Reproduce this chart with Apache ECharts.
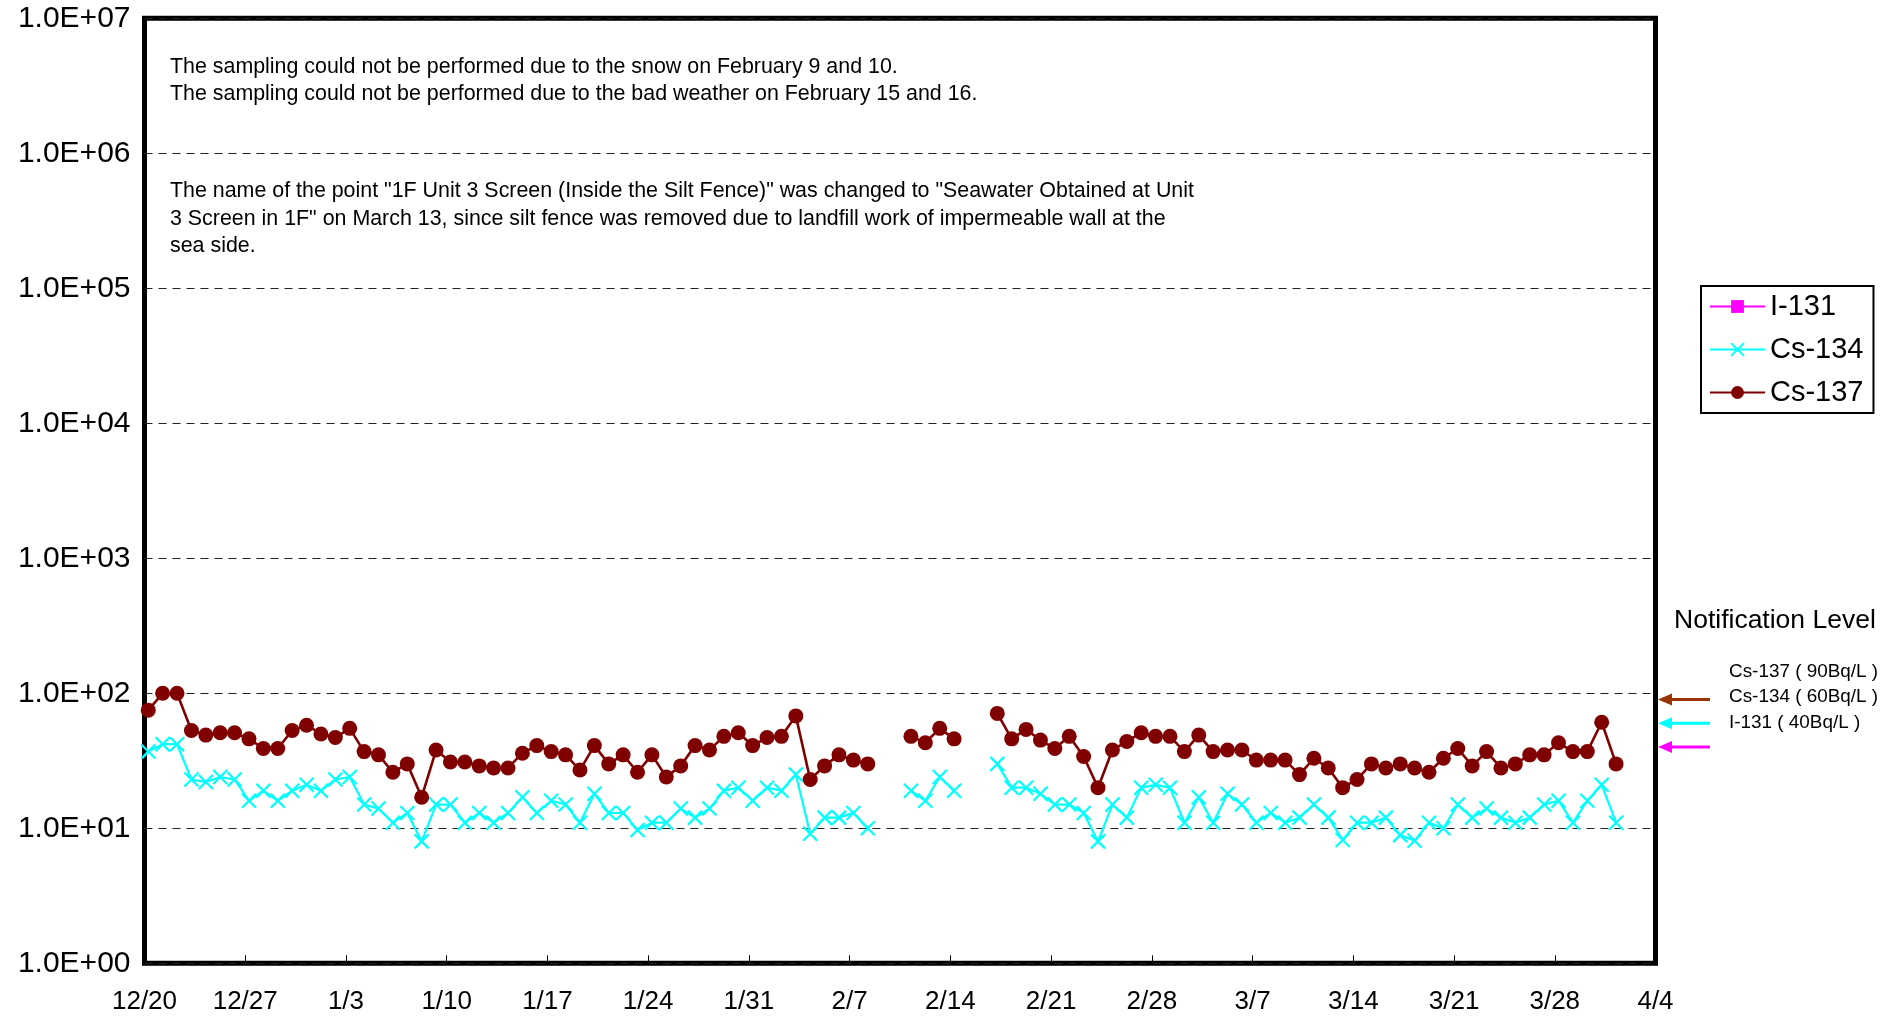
<!DOCTYPE html>
<html>
<head>
<meta charset="utf-8">
<script src="https://cdn.jsdelivr.net/npm/echarts@6/dist/echarts.min.js"></script>
<style>
html,body{margin:0;padding:0;background:#fff;}
#chart{width:1899px;height:1017px;}
</style>
</head>
<body>
<div id="chart"></div>
<script>
// ---- data (sampling from 12/19 to 4/1, one sample per day) ----
const firstSampleDay = -1; // 12/19, one day before the 12/20 axis origin
const xTickLabels = ['12/20','12/27','1/3','1/10','1/17','1/24','1/31','2/7','2/14','2/21','2/28','3/7','3/14','3/21','3/28','4/4'];
const yTickLabels = ['1.0E+00','1.0E+01','1.0E+02','1.0E+03','1.0E+04','1.0E+05','1.0E+06','1.0E+07'];
const seriesNames = ['I-131','Cs-134','Cs-137'];
const i131 = []; // not detected
const cs134 = [
 28,37,42,42,23,22,24,23,16,19,16,19,21,19,23,24,15,14,11,13,8.0,15,15,11,13,11,13,
 17,13,16,15,11,18,13,13,9.7,11,11,14,12,14,19,20,16,20,19,25,9.1,12,12,13,10,
 null,null,19,16,24,19,null,null,
 30,20,20,18,15,15,13,8.0,15,12,20,21,20,11,17,11,18,15,
 11,13,11,12,15,12,8.2,11,11,12,8.9,8.1,11,10,15,12,14,12,11,12,15,16,11,16,21,11
];
const cs137 = [
 70,75,100,100,53,49,51,51,46,39,39,53,58,50,47,55,37,35,26,30,17,38,31,31,29,28,28,
 36,41,37,35,27,41,30,35,26,35,24,29,41,38,48,51,41,47,48,68,23,29,35,32,30,
 null,null,48,43,55,46,null,null,
 71,46,54,45,39,48,34,20,38,44,51,48,48,37,49,37,38,38,
 32,32,32,25,33,28,20,23,30,28,30,28,26,33,39,29,37,28,30,35,35,43,37,37,61,30
];
const notifyLabels = ['Cs-137 ( 90Bq/L )','Cs-134 ( 60Bq/L )','I-131 ( 40Bq/L )'];
const notifyLevels = [90, 60, 40];
const notifyColors = ['#993300','#00FFFF','#FF00FF'];

const sampleTimeOffset = 0.26; // samples taken in the morning
function toXY(arr){
  return arr.map((v,i)=>[firstSampleDay + i + sampleTimeOffset, v]);
}

const chart = echarts.init(document.getElementById('chart'), null, {renderer:'canvas'});
const FONT = 'Liberation Sans, Arial, sans-serif';
const crossPath = 'path://M0,0L10,10M10,0L0,10';

const option = {
  animation:false,
  backgroundColor:'#fff',
  textStyle:{fontFamily:FONT},
  grid:{left:144.5, right:243.5, top:18.3, bottom:53.7, show:true, borderColor:'#000', borderWidth:5, backgroundColor:'transparent'},
  legend:{
    data:seriesNames,
    orient:'vertical',
    left:1701, top:286,
    backgroundColor:'#fff',
    borderColor:'#000', borderWidth:2,
    padding:[6,10,6,8],
    itemGap:14,
    itemWidth:55, itemHeight:16,
    textStyle:{fontFamily:FONT, fontSize:29, color:'#000'}
  },
  xAxis:{
    type:'value', min:0, max:105, interval:7,
    axisLine:{show:false},
    axisTick:{show:true, inside:true, length:8, lineStyle:{color:'#000', width:1}},
    splitLine:{show:false},
    axisLabel:{fontFamily:FONT, fontSize:26, color:'#000', margin:26,
      formatter:(v)=>xTickLabels[Math.round(v/7)] || ''}
  },
  yAxis:{
    type:'log', logBase:10, min:1, max:1e7,
    axisLine:{show:false},
    axisTick:{show:false},
    splitLine:{show:true, lineStyle:{type:[8,6], color:'#222', width:1.2}},
    axisLabel:{fontFamily:FONT, fontSize:30, color:'#000', margin:14,
      formatter:(v)=>yTickLabels[Math.round(Math.log10(v))] || ''}
  },
  series:[
    {name:'I-131', type:'line', data:toXY(i131), color:'#FF00FF',
      symbol:'rect', symbolSize:12, lineStyle:{width:2, color:'#FF00FF'},
      itemStyle:{color:'#FF00FF'}},
    {name:'Cs-134', type:'line', data:toXY(cs134), color:'#00FFFF', clip:true,
      symbol:crossPath, symbolSize:14, lineStyle:{width:2.2, color:'#00FFFF'},
      itemStyle:{color:'#00FFFF', borderColor:'#00FFFF', borderWidth:2.2}},
    {name:'Cs-137', type:'line', data:toXY(cs137), color:'#800000', clip:true,
      symbol:'circle', symbolSize:15, lineStyle:{width:2.6, color:'#800000'},
      itemStyle:{color:'#800000', borderWidth:0}}
  ]
};
chart.setOption(option);

// annotations
const graphics = [];
const noteStyle = {fontFamily:FONT, fontSize:21.4, fill:'#000'};
const notes = [
  ['The sampling could not be performed due to the snow on February 9 and 10.', 69],
  ['The sampling could not be performed due to the bad weather on February 15 and 16.', 95.5],
  ['The name of the point "1F Unit 3 Screen (Inside the Silt Fence)" was changed to "Seawater Obtained at Unit', 193],
  ['3 Screen in 1F" on March 13, since silt fence was removed due to landfill work of impermeable wall at the', 220.5],
  ['sea side.', 248]
];
notes.forEach(n=>graphics.push({type:'text', left:170, top:n[1]-12, style:Object.assign({text:n[0]}, noteStyle), z:10}));

graphics.push({type:'text', left:1674, top:607, style:{text:'Notification Level', fontFamily:FONT, fontSize:26.5, fill:'#000'}, z:10});
const labelY = [672, 697, 722.5];
notifyLabels.forEach((t,i)=>{
  graphics.push({type:'text', left:1729, top:labelY[i]-9.5, style:{text:t, fontFamily:FONT, fontSize:18.9, fill:'#000'}, z:10});
});
notifyLevels.forEach((lv,i)=>{
  const y = chart.convertToPixel({yAxisIndex:0}, lv);
  graphics.push({type:'line', shape:{x1:1668, y1:y, x2:1710, y2:y}, style:{stroke:notifyColors[i], lineWidth:3}, z:10});
  graphics.push({type:'polygon', shape:{points:[[1658,y],[1672,y-6],[1672,y+6]]}, style:{fill:notifyColors[i]}, z:10});
});
chart.setOption({graphic:graphics});
</script>
</body>
</html>
